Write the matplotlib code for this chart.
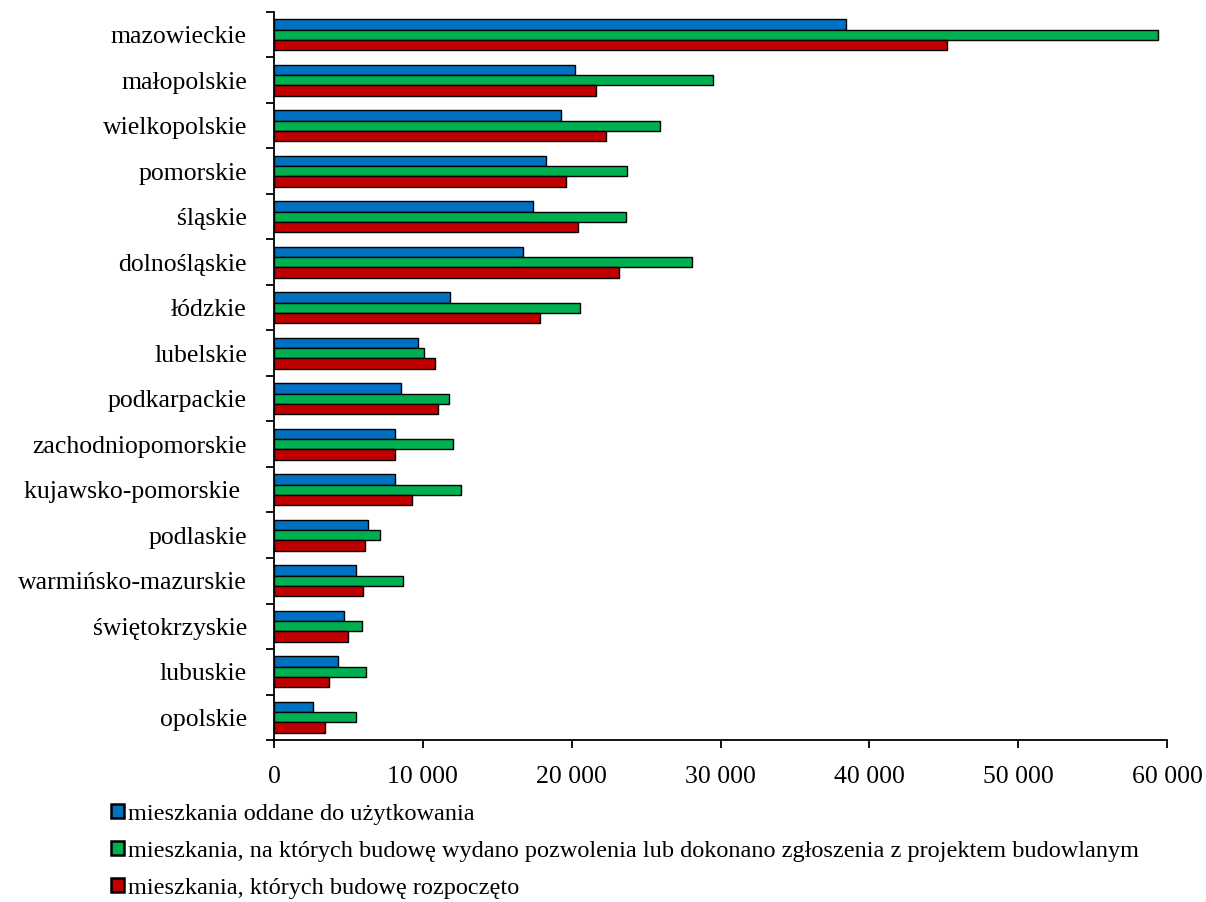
import matplotlib.pyplot as plt
import numpy as np
from matplotlib.ticker import FuncFormatter, FixedLocator

plt.rcParams['font.family'] = ['Liberation Serif', 'DejaVu Serif']

regions = ["mazowieckie", "małopolskie", "wielkopolskie", "pomorskie", "śląskie",
           "dolnośląskie", "łódzkie", "lubelskie", "podkarpackie", "zachodniopomorskie",
           "kujawsko-pomorskie ", "podlaskie", "warmińsko-mazurskie", "świętokrzyskie",
           "lubuskie", "opolskie"]

oddane = [38400, 20200, 19300, 18300, 17400, 16700, 11800, 9700, 8500, 8100,
          8100, 6300, 5500, 4700, 4300, 2600]
pozwolenia = [59400, 29500, 25900, 23700, 23650, 28100, 20550, 10100, 11750, 12050,
              12550, 7150, 8700, 5900, 6200, 5500]
rozpoczete = [45200, 21650, 22300, 19650, 20400, 23200, 17900, 10800, 11000, 8150,
              9250, 6100, 6000, 5000, 3700, 3400]

series_labels = ["mieszkania oddane do użytkowania",
                 "mieszkania, na których budowę wydano pozwolenia lub dokonano zgłoszenia z projektem budowlanym",
                 "mieszkania, których budowę rozpoczęto"]
series_colors = ["#0070C0", "#00B050", "#C00000"]

fig = plt.figure(figsize=(12.06, 9.02), dpi=100)
ax = fig.add_axes([0.2272, 0.1796, 0.7405, 0.8071])

n = len(regions)
y = np.arange(n)[::-1].astype(float)
h = 0.225
for k, (vals, lab, col) in enumerate(zip([oddane, pozwolenia, rozpoczete], series_labels, series_colors)):
    ax.barh(y + (1 - k) * h, vals, height=h, color=col, edgecolor='black',
            linewidth=1.0, label=lab)

ax.set_xlim(0, 60000)
ax.set_ylim(-0.5, n - 0.5)
ax.set_xticks(np.arange(0, 60001, 10000))
ax.xaxis.set_major_formatter(FuncFormatter(lambda v, p: f"{int(v):,}".replace(",", " ")))
ax.set_yticks(y)
ax.set_yticklabels(regions)
ax.yaxis.set_minor_locator(FixedLocator(np.arange(-0.5, n, 1.0)))
ax.tick_params(axis='y', which='major', length=0, pad=19.5, labelsize=18.5)
ax.tick_params(axis='y', which='minor', length=6, width=1.3, direction='out')
ax.tick_params(axis='x', which='major', length=6, width=1.3, direction='out', labelsize=18.5, pad=13)

for side in ['top', 'right']:
    ax.spines[side].set_visible(False)
for side in ['left', 'bottom']:
    ax.spines[side].set_linewidth(1.3)

leg = fig.legend(loc='upper left', bbox_to_anchor=(0.092, 0.109), frameon=False,
                 fontsize=17.5, handlelength=0.55, handleheight=0.55, handletextpad=0.15,
                 labelspacing=0.66, borderpad=0, borderaxespad=0)
for hnd in leg.legend_handles:
    hnd.set_linewidth(1.8)

fig.savefig("out.png", dpi=100)
